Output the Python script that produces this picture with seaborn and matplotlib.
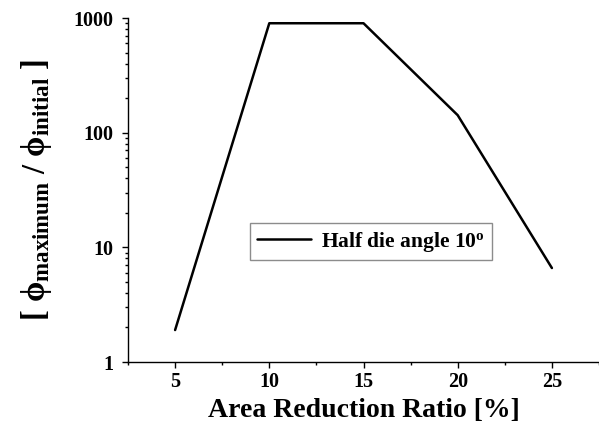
import matplotlib
matplotlib.use("Agg")
import matplotlib.pyplot as plt
import seaborn as sns
import pandas as pd
from matplotlib.ticker import FixedLocator, FuncFormatter, LogLocator, NullFormatter, MultipleLocator

reduction = [5, 10, 15, 20, 25]
ratio = [1.9, 900, 900, 142, 6.6]
series_label = "Half die angle 10$^{\\mathbf{o}}$"
xticks = [5, 10, 15, 20, 25]
yticks = [1, 10, 100, 1000]

sns.set_theme(style="ticks")
plt.rcParams['font.family'] = ['Liberation Serif', 'DejaVu Serif']
plt.rcParams['font.weight'] = 'bold'
plt.rcParams['text.color'] = 'black'
plt.rcParams['axes.labelcolor'] = 'black'
plt.rcParams['mathtext.fontset'] = 'custom'
plt.rcParams['mathtext.rm'] = 'Liberation Serif:bold'
plt.rcParams['mathtext.bf'] = 'Liberation Serif:bold'
plt.rcParams['mathtext.it'] = 'Liberation Serif:bold'

df = pd.DataFrame({"x": reduction, "y": ratio, "s": series_label})

fig = plt.figure(figsize=(5.99, 4.25), dpi=100)
ax = fig.add_axes([128/599, 1-362/425, 1-128/599, (362-18)/425])
sns.lineplot(data=df, x="x", y="y", hue="s", palette=["black"], linewidth=1.8, ax=ax)
ax.set_yscale("log")
ax.set_xlim(2.5, 27.5)
ax.set_ylim(1, 1000)
ax.xaxis.set_major_locator(FixedLocator(xticks))
ax.xaxis.set_minor_locator(MultipleLocator(2.5))
ax.yaxis.set_major_locator(FixedLocator(yticks))
ax.yaxis.set_major_formatter(FuncFormatter(lambda v, p: f"{int(round(v))}"))
ax.yaxis.set_minor_locator(LogLocator(base=10, subs=range(2, 10)))
ax.yaxis.set_minor_formatter(NullFormatter())
for s in ["top", "right"]:
    ax.spines[s].set_visible(False)
for s in ["left", "bottom"]:
    ax.spines[s].set_color("black")
    ax.spines[s].set_linewidth(1.0)
ax.tick_params(which="major", direction="out", length=4.5, width=1, labelsize=14.5, colors="black")
ax.tick_params(which="minor", direction="out", length=2.5, width=1, colors="black")
ax.tick_params(axis="y", which="major", pad=6)
ax.tick_params(axis="x", which="major", pad=3)
for lbl in ax.get_xticklabels() + ax.get_yticklabels():
    lbl.set_fontweight("bold")
ax.set_xlabel("Area Reduction Ratio [%]", fontsize=20, fontweight="bold", labelpad=4)
ax.set_ylabel("[ ϕ$_{\\mathbf{maximum}}$ / ϕ$_{\\mathbf{initial}}$ ]", fontsize=23.5, fontweight="bold", labelpad=14)
leg = ax.legend(loc="center", bbox_to_anchor=(0.516, 0.350), frameon=True, fancybox=False,
                fontsize=15.5, handlelength=2.5, handletextpad=0.5, borderpad=0.3)
leg.get_frame().set_edgecolor("#707070")
leg.get_frame().set_linewidth(1.0)
for t in leg.get_texts():
    t.set_fontweight("bold")
fig.savefig("out.png", dpi=100)
